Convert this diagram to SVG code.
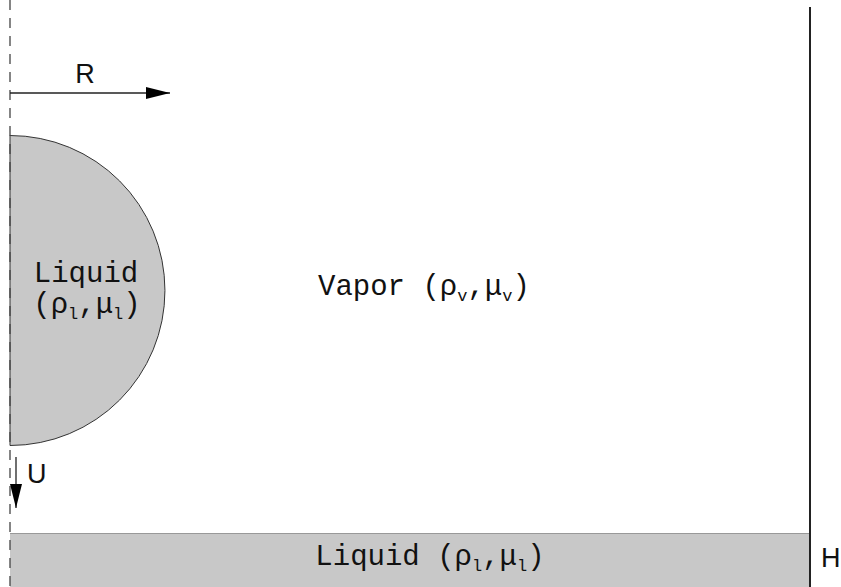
<svg xmlns="http://www.w3.org/2000/svg" width="841" height="587" viewBox="0 0 841 587">
<defs>
<style>
.mono{font-family:"Liberation Mono","Courier New",monospace;font-size:29px;fill:#111}
.sans{font-family:"Liberation Sans",Arial,sans-serif;font-size:27px;fill:#111}
.sub{font-size:17px}
.fillg{fill:#c8c8c8}
</style>
<marker id="ah" viewBox="0 0 24 12" refX="24" refY="6" markerWidth="24" markerHeight="12" markerUnits="userSpaceOnUse" orient="auto">
<path d="M0,0 L24,6 L0,12 Z" fill="#000"/>
</marker>
</defs>
<rect width="841" height="587" fill="#fff"/>
<g id="pool">
<rect x="10" y="533" width="799" height="54" class="fillg"/>
<line x1="10" y1="533.5" x2="809" y2="533.5" stroke="#999" stroke-width="1"/>
<text class="mono" x="430" y="565" text-anchor="middle">Liquid (ρ<tspan class="sub" dy="6">l</tspan><tspan dy="-6">,μ</tspan><tspan class="sub" dy="6">l</tspan><tspan dy="-6">)</tspan></text>
</g>
<g id="droplet">
<path d="M10,135.5 A155,155 0 0 1 10,445.5 Z" class="fillg" stroke="#333" stroke-width="1"/>
<text class="mono" x="86" y="282" text-anchor="middle">Liquid</text>
<text class="mono" x="87" y="313" text-anchor="middle">(ρ<tspan class="sub" dy="6">l</tspan><tspan dy="-6">,μ</tspan><tspan class="sub" dy="6">l</tspan><tspan dy="-6">)</tspan></text>
</g>
<g id="vapor">
<text class="mono" x="318" y="295">Vapor (ρ<tspan class="sub" dy="6">v</tspan><tspan dy="-6">,μ</tspan><tspan class="sub" dy="6">v</tspan><tspan dy="-6">)</tspan></text>
</g>
<g id="wall">
<line x1="810" y1="7" x2="810" y2="587" stroke="#222" stroke-width="2"/>
<text class="sans" x="821" y="567">H</text>
</g>
<g id="axis">
<line x1="10" y1="0" x2="10" y2="587" stroke="#444" stroke-width="1.3" stroke-dasharray="10 8"/>
</g>
<g id="connectors">
<line x1="10" y1="93" x2="170" y2="93" stroke="#222" stroke-width="1.3" marker-end="url(#ah)"/>
<text class="sans" x="85" y="83" text-anchor="middle">R</text>
<line x1="16" y1="457" x2="16" y2="508" stroke="#222" stroke-width="1.3" marker-end="url(#ah)"/>
<text class="sans" x="27" y="483">U</text>
</g>
</svg>
